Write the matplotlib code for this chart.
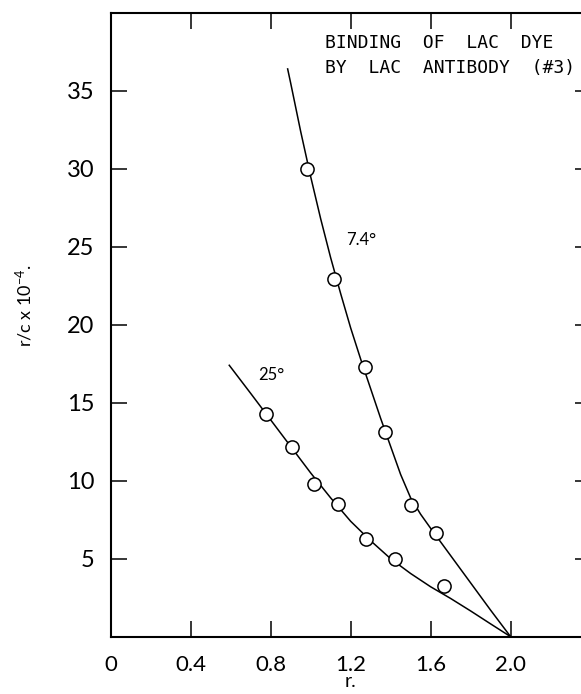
import numpy as np
from matplotlib import pyplot as plt

# data (r, r/c x 10^-4)
r_74 = [0.983, 1.115, 1.271, 1.371, 1.501, 1.628]
rc_74 = [30.0, 22.9, 17.26, 13.12, 8.46, 6.63]
r_25 = [0.775, 0.907, 1.015, 1.137, 1.275, 1.42, 1.668]
rc_25 = [14.29, 12.18, 9.78, 8.51, 6.28, 4.97, 3.23]

# hand-drawn curves, traced points
curve_r_74 = [0.885, 0.90, 0.95, 1.00, 1.05, 1.10, 1.15, 1.20, 1.25, 1.30,
              1.35, 1.40, 1.45, 1.50, 1.55, 1.60, 1.70, 1.80, 1.90, 2.0]
curve_rc_74 = [36.4, 35.5, 32.4, 29.5, 26.8, 24.3, 22.0, 19.8, 17.8, 15.9,
               14.0, 12.2, 10.4, 8.9, 7.85, 6.95, 5.2, 3.45, 1.7, 0.0]
curve_r_25 = [0.593, 0.70, 0.80, 0.90, 1.00, 1.10, 1.20, 1.30, 1.40, 1.50,
              1.60, 1.70, 1.80, 1.90, 2.0]
curve_rc_25 = [17.4, 15.6, 13.9, 12.2, 10.5, 8.9, 7.4, 6.15, 5.0, 4.05,
               3.2, 2.45, 1.65, 0.82, 0.0]

xticks = [0, 0.4, 0.8, 1.2, 1.6, 2.0]
xlabels = ['0', '0.4', '0.8', '1.2', '1.6', '2.0']
yticks = [5, 10, 15, 20, 25, 30, 35]

plt.rcParams['font.family'] = ['Lato', 'DejaVu Sans']
plt.rcParams['mathtext.default'] = 'regular'

fig = plt.figure(figsize=(5.81, 6.94), dpi=100)
ax = fig.add_axes([0.1905, 0.0826, 0.826, 0.899])

ax.plot(curve_r_74, curve_rc_74, color='black', lw=1.1, solid_joinstyle='round')
ax.plot(curve_r_25, curve_rc_25, color='black', lw=1.1, solid_joinstyle='round')
ax.plot(r_74, rc_74, 'o', ms=9.5, mfc='white', mec='black', mew=1.1)
ax.plot(r_25, rc_25, 'o', ms=9.5, mfc='white', mec='black', mew=1.1)

ax.set_xlim(0, 2.4)
ax.set_ylim(0, 40)
ax.set_xticks(xticks)
ax.set_xticklabels(xlabels)
ax.set_yticks(yticks)
ax.tick_params(axis='both', direction='in', width=1.1, length=11.5,
               top=True, right=True, colors='black')
ax.tick_params(axis='x', labelsize=16, pad=13)
ax.tick_params(axis='y', labelsize=17, pad=11.5)
for s in ax.spines.values():
    s.set_linewidth(1.5)

ax.set_xlabel('r.', fontsize=14, labelpad=-1)
ax.set_ylabel('r/c x 10$^{-4}$.', fontsize=13)
ax.yaxis.set_label_coords(-0.158, 0.53)

ax.text(1.175, 25.46, '7.4°', fontsize=12, va='center', ha='left')
ax.text(0.738, 16.8, '25°', fontsize=12, va='center', ha='left')

ax.text(0.4465, 0.951, 'BINDING  OF  LAC  DYE', transform=ax.transAxes,
        family='DejaVu Sans Mono', fontsize=13, va='center', ha='left')
ax.text(0.4465, 0.911, 'BY  LAC  ANTIBODY  (#3)', transform=ax.transAxes,
        family='DejaVu Sans Mono', fontsize=13, va='center', ha='left')

fig.savefig('out.png', dpi=100)
